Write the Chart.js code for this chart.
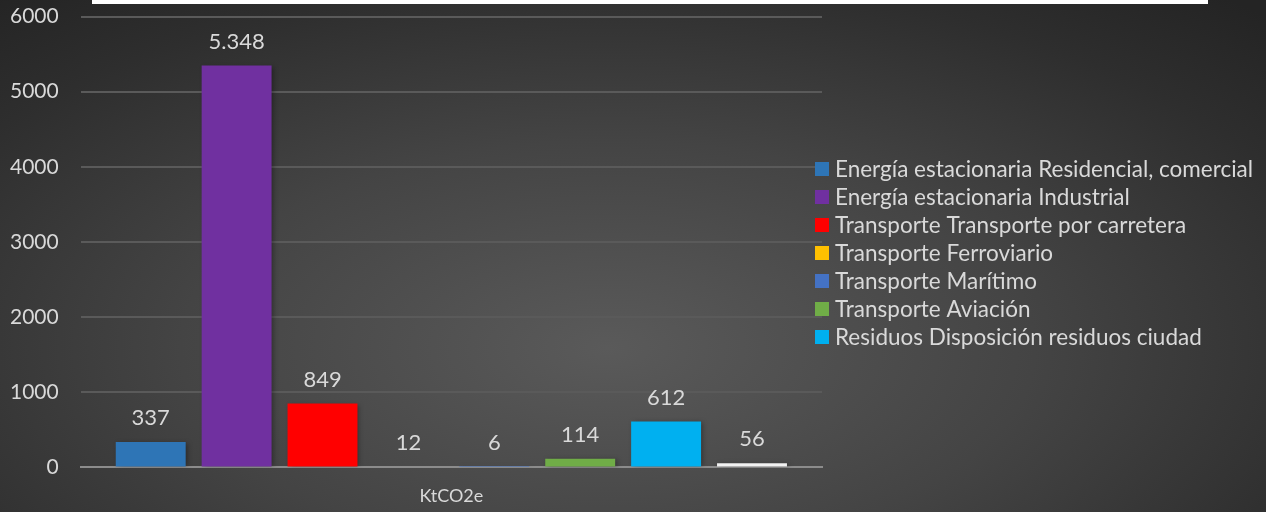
<!DOCTYPE html>
<html>
<head>
<meta charset="utf-8">
<script src="https://cdn.jsdelivr.net/npm/chart.js@4.4.1/dist/chart.umd.min.js"></script>
<style>
  html, body { margin: 0; padding: 0; }
  body {
    width: 1266px; height: 512px; overflow: hidden; position: relative;
    background: radial-gradient(ellipse 75% 90% at 48% 68%, #5a5a5a 0%, #444 45%, #2e2e2e 80%, #242424 100%);
  }
  #topBox { position: absolute; left: 92px; top: 0; width: 1116px; height: 4px; background: #fff; }
  #wrap { position: absolute; left: 0; top: -18px; width: 1266px; height: 530px; }
</style>
</head>
<body>
<div id="topBox"></div>
<div id="wrap"><canvas id="chart"></canvas></div>
<script>
const categories = ['KtCO2e'];
const seriesNames = [
  'Energía estacionaria Residencial, comercial',
  'Energía estacionaria Industrial',
  'Transporte Transporte por carretera',
  'Transporte Ferroviario',
  'Transporte Marítimo',
  'Transporte Aviación',
  'Residuos Disposición residuos ciudad',
  'Residuos Tratamiento aguas residuales'
];
const seriesValues = [337, 5348, 849, 12, 6, 114, 612, 56];
const valueLabels = ['337', '5.348', '849', '12', '6', '114', '612', '56'];
const seriesColors = ['#2E75B6', '#7030A0', '#FF0000', '#FFC000', '#4472C4', '#70AD47', '#00B0F0', '#F2F2F2'];
const yTicks = [0, 1000, 2000, 3000, 4000, 5000, 6000];
const legendCount = 7; // the last series does not show in the legend

const FONT = 'Lato, "Open Sans", sans-serif';
const TEXT = '#d9d9d9';

// ---- bar shadow + value labels above each bar ----
const valueLabelPlugin = {
  id: 'valueLabels',
  beforeDatasetsDraw(chart) {
    const ctx = chart.ctx;
    ctx.save();
    ctx.shadowColor = 'rgba(0,0,0,0.35)';
    ctx.shadowBlur = 5;
    ctx.shadowOffsetX = 2;
    ctx.shadowOffsetY = 1;
  },
  afterDatasetsDraw(chart) {
    const ctx = chart.ctx;
    ctx.restore();
    ctx.save();
    ctx.font = '22px ' + FONT;
    ctx.fillStyle = TEXT;
    ctx.textAlign = 'center';
    ctx.textBaseline = 'middle';
    chart.data.datasets.forEach((ds, i) => {
      const bar = chart.getDatasetMeta(i).data[0];
      ctx.fillText(valueLabels[i], bar.x, bar.y - 24);
    });
    ctx.restore();
  }
};

// ---- legend on the right (built-in one is capped at half the width) ----
const sideLegendPlugin = {
  id: 'sideLegend',
  afterDraw(chart) {
    const ctx = chart.ctx;
    const x = chart.chartArea.right - 7;
    const rowH = 28;
    const y0 = 271 - rowH * (legendCount - 1) / 2;
    ctx.save();
    ctx.font = '22.5px ' + FONT;
    ctx.textAlign = 'left';
    ctx.textBaseline = 'middle';
    chart.data.datasets.slice(0, legendCount).forEach((ds, i) => {
      const y = y0 + i * rowH;
      ctx.fillStyle = ds.backgroundColor;
      ctx.fillRect(x, y - 7, 14, 14);
      ctx.fillStyle = TEXT;
      ctx.fillText(ds.label, x + 20, y + 1);
    });
    ctx.restore();
  }
};

const datasets = seriesNames.map((name, i) => ({
  label: name,
  data: [seriesValues[i]],
  backgroundColor: seriesColors[i],
  borderWidth: 0,
  barPercentage: 0.814,
  categoryPercentage: 0.927
}));

new Chart(document.getElementById('chart'), {
  type: 'bar',
  data: { labels: categories, datasets },
  plugins: [valueLabelPlugin, sideLegendPlugin],
  options: {
    responsive: true,
    maintainAspectRatio: false,
    animation: false,
    layout: { padding: { left: -12, right: 444, top: -12, bottom: -13 } },
    scales: {
      x: {
        grid: { display: false, drawTicks: false },
        border: { display: true, color: '#8c8c8c', width: 2 },
        ticks: { color: TEXT, font: { family: FONT, size: 18 }, padding: 18 }
      },
      y: {
        min: 0,
        max: 6000,
        afterBuildTicks: (axis) => { axis.ticks = yTicks.map(v => ({ value: v })); },
        grid: { color: '#5a5a5a', lineWidth: 2, drawTicks: false },
        border: { display: false },
        ticks: { color: TEXT, font: { family: FONT, size: 21 }, padding: 22, callback: (v) => String(v) }
      }
    },
    plugins: {
      tooltip: { enabled: false },
      legend: { display: false }
    }
  }
});
</script>
</body>
</html>
